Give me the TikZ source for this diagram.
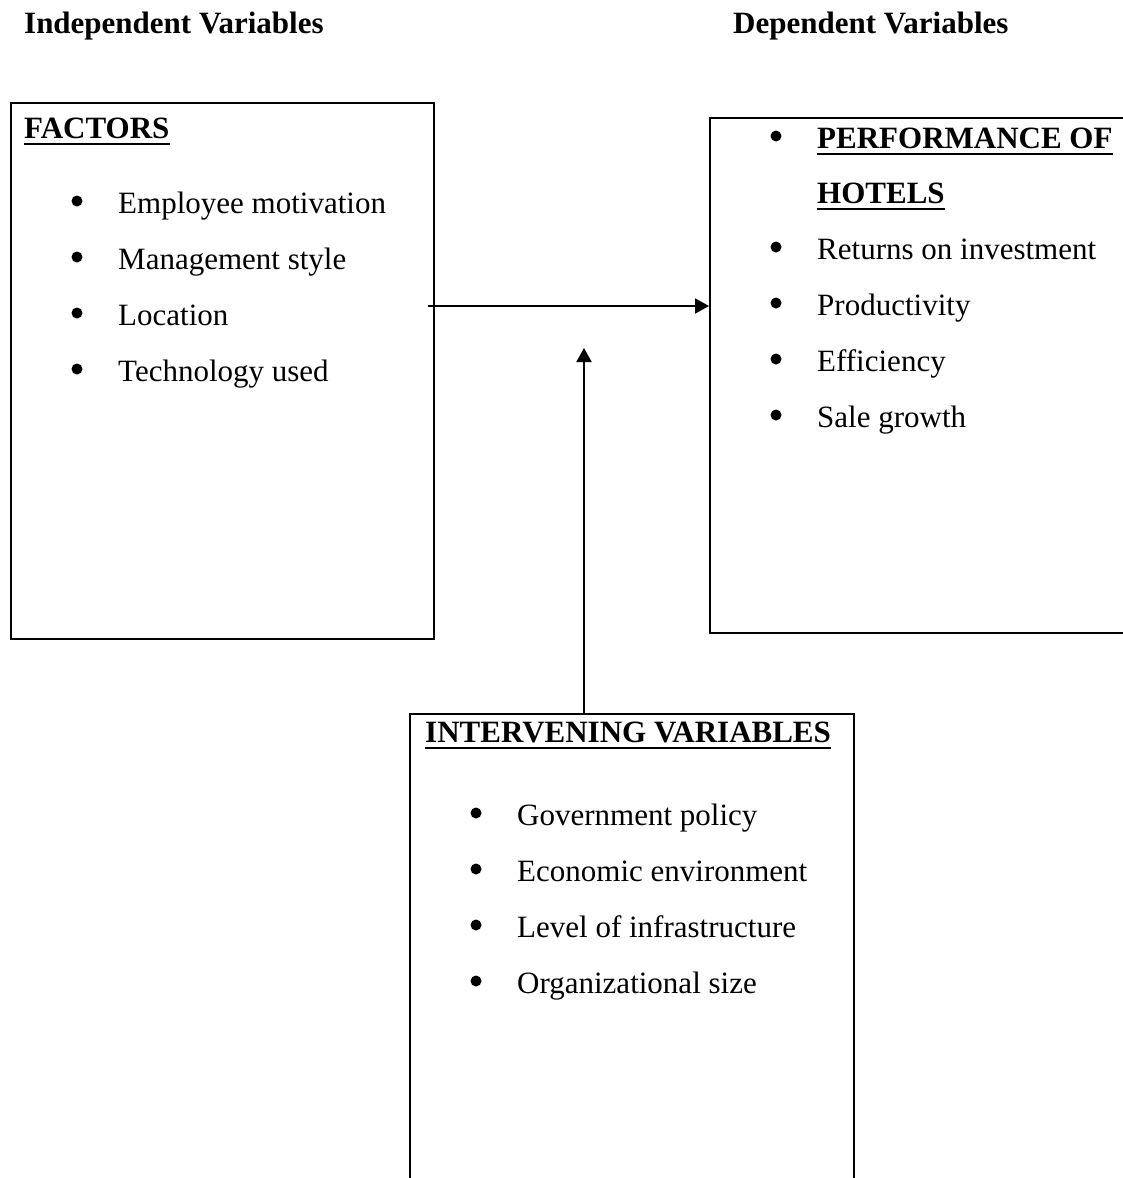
\documentclass[tikz,border=0pt]{standalone}
\usepackage{fontspec}
\setmainfont{Liberation Serif}
\usetikzlibrary{arrows.meta,calc}
\tikzset{
  frame/.style={draw=black, line width=2pt, rectangle, anchor=north west, inner sep=0pt},
  txt/.style={anchor=base west, inner sep=0pt, font=\fontsize{31}{37}\selectfont},
  hd/.style={txt, font=\fontsize{31}{37}\selectfont\bfseries},
  ulline/.style={line width=2.6pt},
  conn/.style={line width=2pt, -{Triangle[length=14pt,width=15pt]}},
  dot/.style={fill=black}
}
\begin{document}
\begin{tikzpicture}[x=1pt,y=-1pt]
\useasboundingbox (0,0) rectangle (1122,1178);

% column headings
\node[hd] (indep) at (24,33) {Independent Variables};
\node[hd] (dep) at (733,33) {Dependent Variables};

% frames
\node[frame, minimum width=423pt, minimum height=536pt] (factors) at (10,102) {};
\node[frame, minimum width=440pt, minimum height=515pt] (perf) at (709,117) {};
\node[frame, minimum width=444pt, minimum height=500pt] (inter) at (409,713) {};

% independent variables
\node[hd] (ftitle) at (24,138) {FACTORS};
\draw[ulline] ([yshift=-6pt]ftitle.base west) -- ([yshift=-6pt]ftitle.base east);
\foreach \t/\y [count=\i] in {Employee motivation/213, Management style/269, Location/325, Technology used/381}{
  \fill[dot] (77,\y-12) circle (5.5);
  \node[txt] (f\i) at (118,\y) {\t};
}

% dependent variables
\fill[dot] (776,136) circle (5.5);
\node[hd] (ptitle) at (817,148) {PERFORMANCE OF};
\draw[ulline] ([yshift=-6pt]ptitle.base west) -- ([yshift=-6pt]ptitle.base east);
\node[hd] (ptitle2) at (817,203) {HOTELS};
\draw[ulline] ([yshift=-6pt]ptitle2.base west) -- ([yshift=-6pt]ptitle2.base east);
\foreach \t/\y [count=\i] in {Returns on investment/259, Productivity/315, Efficiency/371, Sale growth/427}{
  \fill[dot] (776,\y-12) circle (5.5);
  \node[txt] (p\i) at (817,\y) {\t};
}

% intervening variables
\node[hd] (ititle) at (425,742) {INTERVENING VARIABLES};
\draw[ulline] ([yshift=-6pt]ititle.base west) -- ([yshift=-6pt]ititle.base east);
\foreach \t/\y [count=\i] in {Government policy/825, Economic environment/881, Level of infrastructure/937, Organizational size/993}{
  \fill[dot] (476,\y-12) circle (5.5);
  \node[txt] (v\i) at (517,\y) {\t};
}

% connectors
\coordinate (hstart) at (428,306);
\draw[conn] (hstart) -- (hstart -| perf.west);
\coordinate (vtip) at (584,348);
\draw[conn] (vtip |- inter.north) -- (vtip);
\end{tikzpicture}
\end{document}
